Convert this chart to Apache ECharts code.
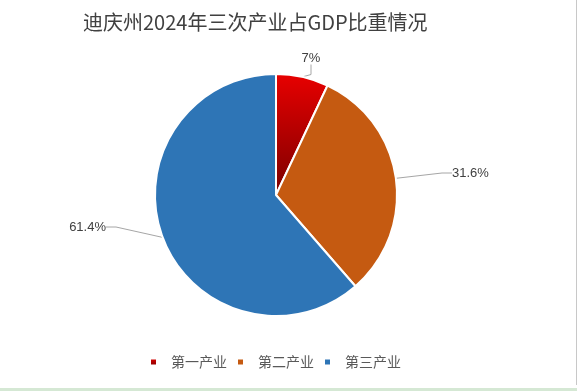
<!DOCTYPE html>
<html><head><meta charset="utf-8">
<script src="https://cdn.jsdelivr.net/npm/echarts@6/dist/echarts.min.js"></script>
<style>html,body{margin:0;padding:0;background:#fff}#c{width:577px;height:391px}</style>
</head><body><div id="c"></div>
<script>
var titleText = '迪庆州2024年三次产业占GDP比重情况';
var categories = ['第一产业', '第二产业', '第三产业'];
var values = [7, 31.6, 61.4];
var labels = ['7%', '31.6%', '61.4%'];

var colors = [
  new echarts.graphic.LinearGradient(0, 0, 0, 1, [{offset: 0, color: '#E80000'}, {offset: 1, color: '#7A0000'}]),
  '#C55A11',
  '#2E75B6'
];
// label text placement, like the reference
var labelPos = [
  {x: 311, y: 58, align: 'center'},
  {x: 452, y: 173, align: 'left'},
  {x: 106, y: 227, align: 'right'}
];
var chart = echarts.init(document.getElementById('c'), null, {renderer: 'canvas'});
chart.setOption({
  animation: false,
  backgroundColor: '#fff',
  title: {
    text: titleText, left: 78, top: 7,
    textStyle: {fontFamily: 'Noto Sans CJK SC', fontSize: 20, fontWeight: 'normal', color: '#404040'}
  },
  legend: {
    bottom: 17, left: 144, itemWidth: 7, itemHeight: 7, itemGap: 9, icon: 'rect',
    textStyle: {fontFamily: 'Noto Sans CJK SC', fontSize: 14, color: '#595959', padding: [0, 0, 0, 9]},
    data: categories
  },
  graphic: [
    {type: 'line', shape: {x1: 576.5, y1: 0, x2: 576.5, y2: 385}, style: {stroke: '#c8c8c8', lineWidth: 1}},
    {type: 'rect', shape: {x: 0, y: 388, width: 577, height: 3}, style: {fill: '#d5e8d4'}}
  ],
  series: [{
    type: 'pie',
    center: [276, 195],
    radius: [0, 121],
    startAngle: 90,
    clockwise: true,
    itemStyle: {borderColor: '#fff', borderWidth: 2},
    label: {
      show: true,
      formatter: function (p) { return labels[p.dataIndex]; },
      fontFamily: 'Liberation Sans', fontSize: 13, color: '#404040'
    },
    labelLine: {show: true, length: 12, length2: 10, lineStyle: {color: '#a6a6a6', width: 1}},
    labelLayout: function (params) {
      var p = labelPos[params.dataIndex];
      return {x: p.x, y: p.y, align: p.align, verticalAlign: 'middle'};
    },
    data: categories.map(function (c, i) {
      return {name: c, value: values[i], itemStyle: {color: colors[i]}};
    })
  }]
});
</script></body></html>
